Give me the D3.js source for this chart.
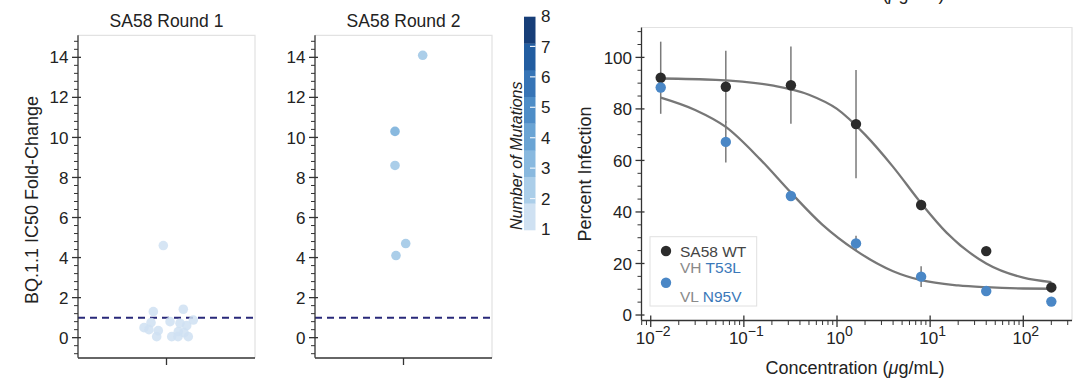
<!DOCTYPE html>
<html><head><meta charset="utf-8">
<script src="https://cdn.jsdelivr.net/npm/d3@7"></script>
<style>
body{margin:0;background:#fff}
svg{display:block}
text{font-family:"Liberation Sans",Arial,Helvetica,sans-serif;fill:#222}
</style>
</head><body>
<svg id="c" width="1080" height="387"></svg>
<script>
// ---------------- DATA ----------------
const panelTitles = ["SA58 Round 1", "SA58 Round 2"];
const foldTicks = [0, 2, 4, 6, 8, 10, 12, 14];
const round1Values   = [4.6, 1.3, 1.42, 0.5, 0.75, 0.05, 0.35, 0.8, 0.05, 0.3, 0.72, 0.6, 0.05, 0.88, 0.05, 0.4, 0.25];
const round1Jitter   = [-0.036, -0.149, 0.19, -0.254, -0.175, -0.111, -0.093, 0.04, 0.059, 0.133, 0.153, 0.228, 0.246, 0.303, 0.13, -0.198, 0.198];
const round1Mutations= [1,1,1,1,1,1,1,1,1,1,1,1,1,1,1,1,1];
const round2Values   = [14.1, 10.3, 8.6, 4.7, 4.1];
const round2Jitter   = [0.217, -0.096, -0.096, 0.025, -0.085];
const round2Mutations= [2, 3, 2, 2, 2];
const referenceFold = 1;

const mutationLevels = [1, 2, 3, 4, 5, 6, 7, 8];
const mutationColors = ["#cfe1f2", "#abcee9", "#89b9df", "#6aa4d4", "#4e8dc7", "#3674b6", "#225da0", "#173e78"];

const concentrations = [0.0128, 0.064, 0.32, 1.6, 8, 40, 200];
const wtValues   = [92.1, 88.6, 89.2, 74.1, 42.7, 24.8, 10.7];
const wtErr      = [14, 14, 15, 21, 2, 0, 0];
const mutValues  = [88.3, 67.2, 46.2, 27.8, 14.9, 9.3, 5.2];
const mutErr     = [0, 8, 0, 3, 4, 0, 0];
const wtCurveX   = [0.0128, 0.05, 0.2, 0.5, 1, 2, 4, 8, 15, 40, 100, 200];
const wtCurveY   = [91.8, 91.3, 89.1, 85.5, 80, 70, 57.5, 43.4, 32, 20, 14.5, 12.8];
const mutCurveX  = [0.0128, 0.03, 0.064, 0.15, 0.32, 0.7, 1.6, 4, 8, 20, 40, 100, 200];
const mutCurveY  = [84.4, 79.6, 73, 60.4, 47.5, 35, 25, 17, 13.5, 11.5, 10.8, 10.3, 10.2];
const pctTicks = [0, 20, 40, 60, 80, 100];
const decadeTicks = [0.01, 0.1, 1, 10, 100];

// ---------------- DRAW ----------------
const svg = d3.select("#c");
const mutColor = d3.scaleOrdinal().domain(mutationLevels).range(mutationColors);
const TICK_FS = 17, LABEL_FS = 18, TITLE_FS = 17.5;

// panel heading above, clipped by the top edge as in the source image
svg.append("text").attr("x", 855).attr("y", -0.5).attr("text-anchor", "middle")
  .attr("font-size", LABEL_FS).html('Concentration (<tspan font-style="italic">μ</tspan>g/mL)');

function yAxis(g, y, x0, majors, minors) {
  const [b, t] = y.range();
  g.append("line").attr("x1", x0).attr("x2", x0).attr("y1", b).attr("y2", t)
    .attr("stroke", "#333").attr("stroke-width", 1.3);
  g.selectAll(null).data(minors).join("line")
    .attr("x1", x0 - 4).attr("x2", x0).attr("y1", d => y(d)).attr("y2", d => y(d))
    .attr("stroke", "#333").attr("stroke-width", 1);
  g.selectAll(null).data(majors).join("line")
    .attr("x1", x0 - 6).attr("x2", x0 + 3).attr("y1", d => y(d)).attr("y2", d => y(d))
    .attr("stroke", "#333").attr("stroke-width", 1.3);
  g.selectAll(null).data(majors).join("text")
    .attr("x", x0 - 9.5).attr("y", d => y(d)).attr("dy", "0.36em")
    .attr("text-anchor", "end").attr("font-size", TICK_FS).text(d => d);
}

// Fold-change panels
const yFold = d3.scaleLinear().domain([-1, 15.1]).range([357.7, 35.3]);
const foldMinors = d3.range(-2, 38).map(k => Math.round(k * 4) / 10).filter(v => Math.abs(v % 2) > 1e-6);
const panels = [
  {x0: 78, x1: 255, vals: round1Values, jit: round1Jitter, mut: round1Mutations, op: 0.85},
  {x0: 315, x1: 492, vals: round2Values, jit: round2Jitter, mut: round2Mutations, op: 1}
];
panels.forEach((p, i) => {
  const g = svg.append("g");
  const x = d3.scaleLinear().domain([-1, 1]).range([p.x0, p.x1]);
  g.append("path").attr("d", `M${p.x0},${yFold.range()[1]}H${p.x1}V358`)
    .attr("fill", "none").attr("stroke", "#e2e2e2").attr("stroke-width", 1.2);
  g.append("line").attr("x1", p.x0).attr("x2", p.x1)
    .attr("y1", yFold(referenceFold)).attr("y2", yFold(referenceFold))
    .attr("stroke", "#29297a").attr("stroke-width", 2).attr("stroke-dasharray", "7,5");
  g.selectAll(null).data(p.vals.map((v, k) => ({v, j: p.jit[k], m: p.mut[k]}))).join("circle")
    .attr("cx", d => x(d.j)).attr("cy", d => yFold(d.v)).attr("r", 4.8)
    .attr("fill", d => mutColor(d.m)).attr("fill-opacity", p.op);
  yAxis(g, yFold, p.x0, foldTicks, foldMinors);
  g.append("line").attr("x1", p.x0).attr("x2", p.x1).attr("y1", 358).attr("y2", 358)
    .attr("stroke", "#333").attr("stroke-width", 1.3);
  g.append("line").attr("x1", x(0)).attr("x2", x(0)).attr("y1", 358).attr("y2", 365)
    .attr("stroke", "#333").attr("stroke-width", 1.3);
  g.append("text").attr("x", x(0)).attr("y", 26.8).attr("text-anchor", "middle")
    .attr("font-size", TITLE_FS).text(panelTitles[i]);
});
svg.append("text").attr("transform", "translate(37.5,200) rotate(-90)")
  .attr("text-anchor", "middle").attr("font-size", LABEL_FS).text("BQ.1.1 IC50 Fold-Change");

// Colorbar
const cb = svg.append("g");
const binY = d3.scaleLinear().domain([0, mutationLevels.length]).range([230, 16.7]);
cb.selectAll(null).data(mutationLevels).join("rect")
  .attr("x", 524).attr("width", 11.5)
  .attr("y", (d, i) => binY(i + 1)).attr("height", (d, i) => binY(i) - binY(i + 1) + 0.3)
  .attr("fill", d => mutColor(d));
const lblY = d3.scaleLinear().domain([1, 8]).range([229, 16]);
cb.selectAll(null).data(mutationLevels.slice(1, -1)).join("line")
  .attr("x1", 530).attr("x2", 535.5).attr("y1", d => lblY(d)).attr("y2", d => lblY(d))
  .attr("stroke", "#eef4fb").attr("stroke-width", 1.2);
cb.selectAll(null).data(mutationLevels).join("text")
  .attr("x", 541).attr("y", d => lblY(d)).attr("dy", "0.36em").attr("font-size", TICK_FS).text(d => d);
cb.append("text").attr("transform", "translate(522,230) rotate(-90)")
  .attr("font-size", 16).attr("font-style", "italic").text("Number of Mutations");

// Neutralization panel
const px0 = 641.5, px1 = 1072, pyT = 27.5, pyB = 320.5;
const xC = d3.scaleLog().domain([Math.pow(10, -2.099), Math.pow(10, 2.523)]).range([px0, px1]);
const yP = d3.scaleLinear().domain([-2.13, 111.6]).range([pyB, pyT]);
const g3 = svg.append("g");
g3.append("path").attr("d", `M${px0},${pyT}H${px1}V${pyB}`)
  .attr("fill", "none").attr("stroke", "#e2e2e2").attr("stroke-width", 1.2);

const line = d3.line().x(d => xC(d[0])).y(d => yP(d[1])).curve(d3.curveMonotoneX);
[[wtCurveX, wtCurveY], [mutCurveX, mutCurveY]].forEach(([cx, cy]) => {
  g3.append("path").attr("d", line(cx.map((c, k) => [c, cy[k]])))
    .attr("fill", "none").attr("stroke", "#777").attr("stroke-width", 2.3);
});
const series = [
  {vals: wtValues, err: wtErr, color: "#2b2b2b"},
  {vals: mutValues, err: mutErr, color: "#4a87c6"}
];
series.forEach(s => {
  g3.selectAll(null).data(concentrations.map((c, k) => ({c, v: s.vals[k], e: s.err[k]})).filter(d => d.e > 0))
    .join("line")
    .attr("x1", d => xC(d.c)).attr("x2", d => xC(d.c))
    .attr("y1", d => yP(d.v - d.e)).attr("y2", d => yP(d.v + d.e))
    .attr("stroke", "#7a7a7a").attr("stroke-width", 1.5);
});
series.forEach(s => {
  g3.selectAll(null).data(concentrations.map((c, k) => ({c, v: s.vals[k]}))).join("circle")
    .attr("cx", d => xC(d.c)).attr("cy", d => yP(d.v)).attr("r", 5.2).attr("fill", s.color);
});
const pctMinors = d3.range(5, 111, 5).filter(v => v % 20 !== 0);
yAxis(g3, yP, px0, pctTicks, pctMinors);
g3.append("line").attr("x1", px0).attr("x2", px1).attr("y1", pyB).attr("y2", pyB)
  .attr("stroke", "#333").attr("stroke-width", 1.3);
const xMinors = [];
[-3, -2, -1, 0, 1, 2].forEach(e => d3.range(2, 10).forEach(m => {
  const v = m * Math.pow(10, e);
  if (v >= xC.domain()[0] && v <= xC.domain()[1]) xMinors.push(v);
}));
g3.selectAll(null).data(xMinors).join("line")
  .attr("x1", d => xC(d)).attr("x2", d => xC(d)).attr("y1", pyB).attr("y2", pyB + 4.5)
  .attr("stroke", "#333").attr("stroke-width", 1);
g3.selectAll(null).data(decadeTicks).join("line")
  .attr("x1", d => xC(d)).attr("x2", d => xC(d)).attr("y1", pyB - 5).attr("y2", pyB + 6.5)
  .attr("stroke", "#333").attr("stroke-width", 1.3);
g3.selectAll(null).data(decadeTicks).join("text")
  .attr("x", d => xC(d) + 2.5).attr("y", 344).attr("text-anchor", "middle").attr("font-size", TICK_FS)
  .each(function(d) {
    const t = d3.select(this);
    t.append("tspan").text("10");
    t.append("tspan").attr("dy", -8).attr("font-size", 14)
      .text(String(Math.round(Math.log10(d))).replace("-", "\u2212"));
  });
svg.append("text").attr("x", 855).attr("y", 374).attr("text-anchor", "middle")
  .attr("font-size", LABEL_FS).html('Concentration (<tspan font-style="italic">μ</tspan>g/mL)');
svg.append("text").attr("transform", "translate(591,174) rotate(-90)")
  .attr("text-anchor", "middle").attr("font-size", LABEL_FS).text("Percent Infection");

// legend
const lg = svg.append("g");
lg.append("rect").attr("x", 650).attr("y", 236.7).attr("width", 106.7).attr("height", 69.3)
  .attr("fill", "#fff").attr("stroke", "#e0e0e0").attr("stroke-width", 1);
lg.append("circle").attr("cx", 666).attr("cy", 251).attr("r", 5.2).attr("fill", series[0].color);
lg.append("circle").attr("cx", 666).attr("cy", 282.7).attr("r", 5.2).attr("fill", series[1].color);
lg.append("text").attr("x", 680).attr("y", 256.6).attr("font-size", 15.5).style("fill", "#444").text("SA58 WT");
const t1 = lg.append("text").attr("x", 680).attr("y", 273.3).attr("font-size", 15.5);
t1.append("tspan").style("fill", "#8a8a8a").text("VH ");
t1.append("tspan").style("fill", "#3b79b9").text("T53L");
const t2 = lg.append("text").attr("x", 680).attr("y", 301.7).attr("font-size", 15.5);
t2.append("tspan").style("fill", "#8a8a8a").text("VL ");
t2.append("tspan").style("fill", "#3b79b9").text("N95V");
</script>
</body></html>
